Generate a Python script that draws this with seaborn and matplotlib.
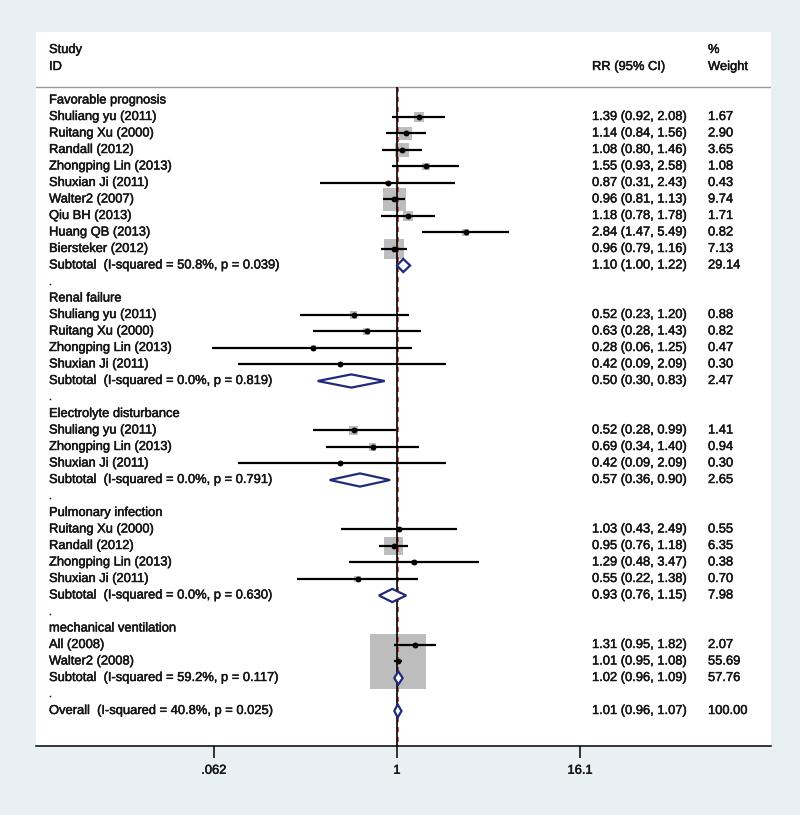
import numpy as np
import pandas as pd
import matplotlib
matplotlib.use("Agg")
import matplotlib.pyplot as plt
import matplotlib.patheffects as pe
import seaborn as sns

# ---- data ----
groups = ["Favorable prognosis", "Renal failure", "Electrolyte disturbance",
          "Pulmonary infection", "mechanical ventilation"]

study_group = [0, 0, 0, 0, 0, 0, 0, 0, 0,
               1, 1, 1, 1,
               2, 2, 2,
               3, 3, 3, 3,
               4, 4]
study_names = ["Shuliang yu (2011)", "Ruitang Xu (2000)", "Randall (2012)",
               "Zhongping Lin (2013)", "Shuxian Ji (2011)", "Walter2 (2007)",
               "Qiu BH (2013)", "Huang QB (2013)", "Biersteker (2012)",
               "Shuliang yu (2011)", "Ruitang Xu (2000)", "Zhongping Lin (2013)",
               "Shuxian Ji (2011)",
               "Shuliang yu (2011)", "Zhongping Lin (2013)", "Shuxian Ji (2011)",
               "Ruitang Xu (2000)", "Randall (2012)", "Zhongping Lin (2013)",
               "Shuxian Ji (2011)",
               "All (2008)", "Walter2 (2008)"]
rr = [1.39, 1.14, 1.08, 1.55, 0.87, 0.96, 1.18, 2.84, 0.96,
      0.52, 0.63, 0.28, 0.42,
      0.52, 0.69, 0.42,
      1.03, 0.95, 1.29, 0.55,
      1.31, 1.01]
ci_lo = [0.92, 0.84, 0.80, 0.93, 0.31, 0.81, 0.78, 1.47, 0.79,
         0.23, 0.28, 0.06, 0.09,
         0.28, 0.34, 0.09,
         0.43, 0.76, 0.48, 0.22,
         0.95, 0.95]
ci_hi = [2.08, 1.56, 1.46, 2.58, 2.43, 1.13, 1.78, 5.49, 1.16,
         1.20, 1.43, 1.25, 2.09,
         0.99, 1.40, 2.09,
         2.49, 1.18, 3.47, 1.38,
         1.82, 1.08]
weight = [1.67, 2.90, 3.65, 1.08, 0.43, 9.74, 1.71, 0.82, 7.13,
          0.88, 0.82, 0.47, 0.30,
          1.41, 0.94, 0.30,
          0.55, 6.35, 0.38, 0.70,
          2.07, 55.69]

sub_het = ["I-squared = 50.8%, p = 0.039", "I-squared = 0.0%, p = 0.819",
           "I-squared = 0.0%, p = 0.791", "I-squared = 0.0%, p = 0.630",
           "I-squared = 59.2%, p = 0.117"]
sub_rr = [1.10, 0.50, 0.57, 0.93, 1.02]
sub_lo = [1.00, 0.30, 0.36, 0.76, 0.96]
sub_hi = [1.22, 0.83, 0.90, 1.15, 1.09]
sub_weight = [29.14, 2.47, 2.65, 7.98, 57.76]

overall_het = "I-squared = 40.8%, p = 0.025"
overall_rr, overall_lo, overall_hi, overall_weight = 1.01, 0.96, 1.07, 100.00

tick_vals = [0.062, 1, 16.1]
tick_labels = [".062", "1", "16.1"]

# ---- build row table ----
rows = []
for g, gname in enumerate(groups):
    rows.append(dict(kind="head", label=gname))
    for i in range(len(study_names)):
        if study_group[i] == g:
            rows.append(dict(kind="study", label=study_names[i], est=rr[i],
                             lo=ci_lo[i], hi=ci_hi[i], w=weight[i]))
    rows.append(dict(kind="sub", label="Subtotal  (" + sub_het[g] + ")",
                     est=sub_rr[g], lo=sub_lo[g], hi=sub_hi[g], w=sub_weight[g]))
    rows.append(dict(kind="gap", label="."))
rows.append(dict(kind="sub", label="Overall  (" + overall_het + ")",
                 est=overall_rr, lo=overall_lo, hi=overall_hi, w=overall_weight))
df = pd.DataFrame(rows)
df["row"] = np.arange(len(df))

# ---- figure layout (pixel-derived) ----
W, H = 800, 815
px_left, px_right, px_top, px_bottom = 36, 771, 32, 746
px_one, px_decade = 397, 151.7
row0_px, row_px = 100.5, 16.5

bg = "#e8f0f3"
txt = "#151515"
navy = "#1f2a78"

sns.set_theme(style="white")
plt.rcParams["font.family"] = ["Liberation Sans", "DejaVu Sans"]
fs = 9.3
thick = [pe.withStroke(linewidth=0.35, foreground=txt)]

fig = plt.figure(figsize=(W / 100, H / 100), dpi=100, facecolor=bg)
ax = fig.add_axes([px_left / W, 1 - px_bottom / H,
                   (px_right - px_left) / W, (px_bottom - px_top) / H])
ax.set_facecolor("white")
ax.set_xscale("log")
ax.set_xlim(10 ** ((px_left - px_one) / px_decade),
            10 ** ((px_right - px_one) / px_decade))
to_row = lambda p: (p - row0_px) / row_px
ax.set_ylim(to_row(px_bottom), to_row(px_top))

header_row = to_row(87)
ax.axhline(header_row, color="#9a9a9a", lw=1)

# reference lines: red dashed overall estimate sits just behind the null line
ax.vlines(overall_rr, header_row, to_row(px_bottom), color="#c8322d", lw=1.2,
          linestyles=(0, (3, 3)), zorder=1.5)
ax.vlines(1, header_row, to_row(px_bottom), color="black", lw=1.2, zorder=2)

st = df[df.kind == "study"]
# weight boxes: side ~ 7.5 px * sqrt(weight)
box_s = (7.5 * 0.72 * np.sqrt(st["w"].to_numpy())) ** 2
sns.scatterplot(x=st["est"].to_numpy(), y=st["row"].to_numpy(), s=box_s,
                marker="s", color="#bdbdbd", linewidth=0, legend=False,
                ax=ax, zorder=1)
ax.hlines(st["row"], st["lo"], st["hi"], color="black", lw=1.6, zorder=3)
sns.scatterplot(x=st["est"].to_numpy(), y=st["row"].to_numpy(), s=18,
                marker="o", color="black", linewidth=0, legend=False,
                ax=ax, zorder=4)

# pooled diamonds
h = 0.4
for _, r in df[df.kind == "sub"].iterrows():
    ax.fill([r.lo, r.est, r.hi, r.est], [r.row, r.row - h, r.row, r.row + h],
            facecolor="white", edgecolor=navy, lw=1.6, zorder=5)

# text columns
tr = ax.get_yaxis_transform()
fx = lambda p: (p - px_left) / (px_right - px_left)
tkw = dict(transform=tr, ha="left", va="center", fontsize=fs, color=txt,
           path_effects=thick)
for _, r in df.iterrows():
    ax.text(fx(49), r.row, r.label, **tkw)
    if r.kind in ("study", "sub"):
        ax.text(fx(592), r.row, "{:.2f} ({:.2f}, {:.2f})".format(r.est, r.lo, r.hi), **tkw)
        ax.text(fx(708), r.row, "{:.2f}".format(r.w), **tkw)

ax.text(fx(49), to_row(50), "Study", **tkw)
ax.text(fx(49), to_row(67), "ID", **tkw)
ax.text(fx(592), to_row(67), "RR (95% CI)", **tkw)
ax.text(fx(708), to_row(50), "%", **tkw)
ax.text(fx(708), to_row(67), "Weight", **tkw)

# axis
for side in ["left", "right", "top"]:
    ax.spines[side].set_visible(False)
ax.spines["bottom"].set_color("black")
ax.spines["bottom"].set_linewidth(1.1)
ax.set_yticks([])
ax.set_xticks(tick_vals)
ax.set_xticklabels(tick_labels)
ax.minorticks_off()
ax.tick_params(axis="x", direction="out", length=8.5, width=1.1, color="black",
               pad=5, labelsize=fs, labelcolor=txt, bottom=True)
for lab in ax.get_xticklabels():
    lab.set_path_effects(thick)
ax.set_xlabel("")
ax.set_ylabel("")

fig.savefig("out.png", dpi=100, facecolor=bg)
